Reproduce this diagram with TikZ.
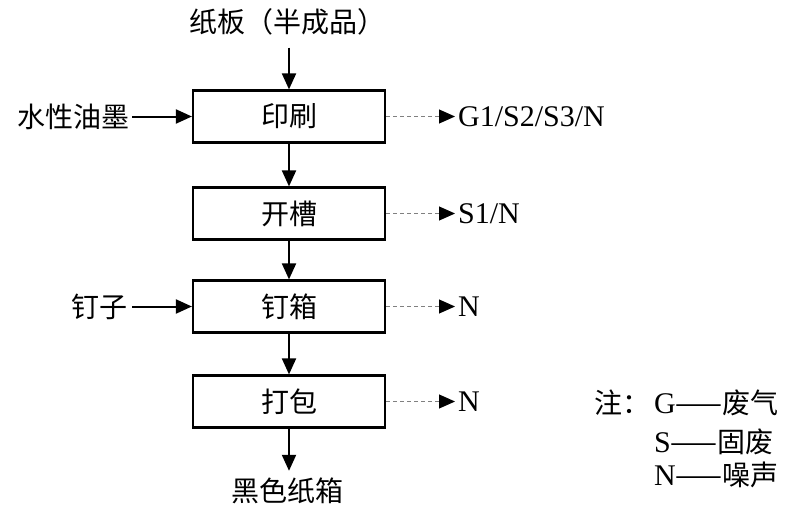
\documentclass[tikz,border=0pt]{standalone}
\usepackage{fontspec}
\setmainfont{Liberation Serif}
\newfontfamily\cjk{Noto Sans CJK SC}
\usetikzlibrary{arrows.meta}
\newcommand\cjksz{\cjk\fontsize{28}{28}\selectfont}
\newcommand\latsz{\rmfamily\fontsize{30}{30}\selectfont}
\begin{document}
\begin{tikzpicture}[x=1pt,y=-1pt,
  proc/.style={draw, line width=2.2pt, minimum width=192pt, minimum height=52pt, inner sep=0pt, font=\cjksz},
  lbl/.style={inner sep=0pt, font=\cjksz},
  outl/.style={inner sep=0pt, anchor=west, font=\latsz},
  flow/.style={line width=2pt, -{Triangle[length=16pt,width=14pt]}},
  emis/.style={draw=gray, line width=1pt, dash pattern=on 4pt off 3pt, -{Triangle[length=16pt,width=14pt,color=black,fill=black]}}]
\path[use as bounding box] (0,0) rectangle (799,508);
\node[lbl] (src) at (287,22) {纸板（半成品）};
\node[proc] (p1) at (289,116.5) {印刷};
\node[proc] (p2) at (289,213.5) {开槽};
\node[proc] (p3) at (289,306.5) {钉箱};
\node[proc] (p4) at (289,401.5) {打包};
\node[lbl] (dst) at (287,491) {黑色纸箱};
\node[lbl, anchor=east] (ink) at (130,116.5) {水性油墨};
\node[lbl, anchor=east] (nail) at (128,306.5) {钉子};
\node[outl] (o1) at (458,116.5) {G1/S2/S3/N};
\node[outl] (o2) at (458,213.5) {S1/N};
\node[outl] (o3) at (458,306.5) {N};
\node[outl] (o4) at (458,401.5) {N};
% flows
\draw[flow] (src.south -| p1.north) ++(0,12) -- (p1.north);
\draw[flow] (ink.east) ++(2,0) -- (p1.west);
\draw[flow] (p1) -- (p2);
\draw[flow] (p2) -- (p3);
\draw[flow] (nail.east) ++(4,0) -- (p3.west);
\draw[flow] (p3) -- (p4);
\draw[flow, shorten >=7pt] (p4.south) -- (p4.south |- dst.north);
% emissions
\draw[emis, shorten >=3pt] (p1.east) -- (o1.west);
\draw[emis, shorten >=3pt] (p2.east) -- (o2.west);
\draw[emis, shorten >=3pt] (p3.east) -- (o3.west);
\draw[emis, shorten >=3pt] (p4.east) -- (o4.west);
% legend
\node[lbl, anchor=west] (note) at (594,403) {注：};
\node[inner sep=0pt, anchor=west] (lg) at (654,403) {\latsz G\cjksz ——废气};
\node[inner sep=0pt, anchor=west] (ls) at (654,442) {\latsz S\cjksz ——固废};
\node[inner sep=0pt, anchor=west] (ln) at (654,475) {\latsz N\cjksz ——噪声};
\end{tikzpicture}
\end{document}
